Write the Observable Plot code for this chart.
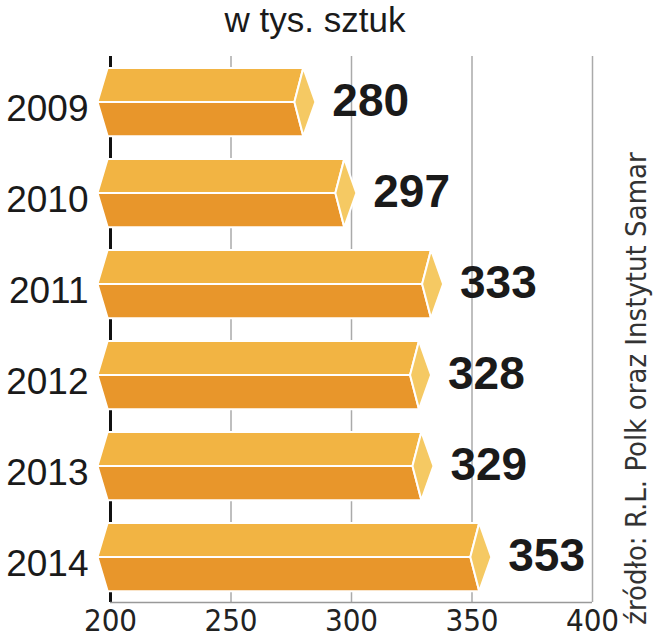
<!DOCTYPE html>
<html><head><meta charset="utf-8">
<script src="https://cdn.jsdelivr.net/npm/d3@7"></script>
<script src="https://cdn.jsdelivr.net/npm/@observablehq/plot@0.6"></script>
<style>
body{margin:0;background:#fff;}
#title{height:44px;line-height:44px;font:35px "Liberation Sans",Arial,sans-serif;color:#1a1a1a;text-align:center;width:630px;}
#chart svg{display:block;}
</style></head><body>
<div id="title"></div>
<div id="chart"></div>
<script>
const title = "w tys. sztuk";
const years = ["2009", "2010", "2011", "2012", "2013", "2014"];
const values = [280, 297, 333, 328, 329, 353];
const xTicks = [200, 250, 300, 350, 400];
const source = "źródło: R.L. Polk oraz Instytut Samar";

document.getElementById("title").textContent = title;

const rows = years.map((year, i) => ({year, value: values[i], i}));

// bar shape (in scale units)
const H = 0.375, L0 = 198.8, LP = 194.6, notch = 3.7, tip = 5;
const topFace = [], botFace = [], caps = [];
rows.forEach(r => {
  const v = r.value, c = r.i;
  [[L0, c - H], [v, c - H], [v - notch, c], [LP, c]].forEach(([x, y]) => topFace.push({x, y, z: r.year}));
  [[LP, c], [v - notch, c], [v, c + H], [L0, c + H]].forEach(([x, y]) => botFace.push({x, y, z: r.year}));
  [[v, c - H], [v + tip, c], [v, c + H], [v - notch, c]].forEach(([x, y]) => caps.push({x, y, z: r.year}));
});

const narrow = "'Liberation Sans Narrow','DejaVu Sans Condensed',sans-serif";
const sans = "'Liberation Sans',Arial,sans-serif";

const chart = Plot.plot({
  width: 658,
  height: 596,
  marginLeft: 110,
  marginRight: 66,
  marginTop: 12,
  marginBottom: 38,
  style: {fontFamily: narrow, fontSize: "30px", color: "#222", background: "#fff"},
  x: {domain: [200, 400]},
  y: {domain: [-0.5, years.length - 0.5], reverse: true, axis: null},
  marks: [
    Plot.ruleX(xTicks.filter(d => d !== 200), {x: d => d, stroke: "#aaa", strokeWidth: 1.5}),
    Plot.ruleX(xTicks.filter(d => d === 200), {x: d => d, stroke: "#111", strokeWidth: 3}),
    Plot.ruleY([years.length - 0.5], {stroke: "#999", strokeWidth: 1.5}),
    Plot.line(topFace, {x: "x", y: "y", z: "z", curve: "linear-closed", fill: "#F2B443", stroke: "#fff", strokeWidth: 2}),
    Plot.line(botFace, {x: "x", y: "y", z: "z", curve: "linear-closed", fill: "#E8962B", stroke: "#fff", strokeWidth: 2}),
    Plot.line(caps, {x: "x", y: "y", z: "z", curve: "linear-closed", fill: "#F5C963", stroke: "#fff", strokeWidth: 2}),
    Plot.axisX(xTicks, {tickSize: 0, tickPadding: 6, label: null, tickFormat: d => String(d), fontSize: 31, fontFamily: narrow, fill: "#222"}),
    Plot.text(rows, {x: () => 200, y: "i", text: "year", textAnchor: "end", dx: -22, dy: 7, fontSize: 37, fontFamily: sans, fill: "#1a1a1a"}),
    Plot.text(rows, {x: "value", y: "i", text: d => String(d.value), textAnchor: "start", dx: 29, dy: -1, fontSize: 46, fontWeight: "bold", fontFamily: sans, fill: "#1a1a1a"}),
    Plot.text([source], {text: d => d, frameAnchor: "right", textAnchor: "middle", rotate: -90, dx: 44, dy: 59, fontSize: 29, fontFamily: narrow, fill: "#333"})
  ]
});
document.getElementById("chart").appendChild(chart);
</script>
</body></html>
